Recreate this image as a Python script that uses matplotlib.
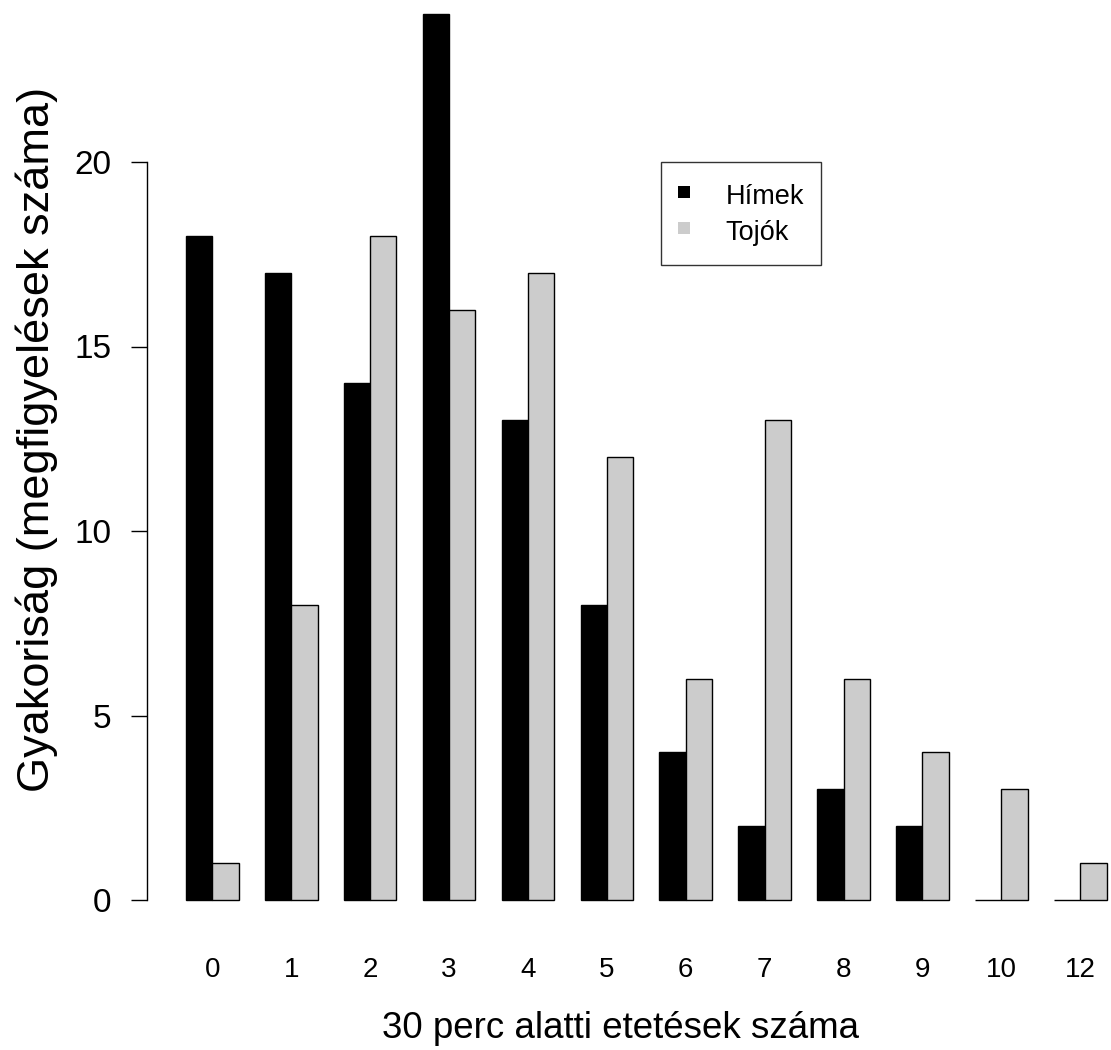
import matplotlib
matplotlib.use("Agg")
import matplotlib.pyplot as plt
from matplotlib.lines import Line2D
import numpy as np

plt.rcParams['font.family'] = ['Liberation Sans', 'DejaVu Sans']

categories = ["0", "1", "2", "3", "4", "5", "6", "7", "8", "9", "10", "12"]
himek = [18, 17, 14, 24, 13, 8, 4, 2, 3, 2, 0, 0]
tojok = [1, 8, 18, 16, 17, 12, 6, 13, 6, 4, 3, 1]
series_names = ["Hímek", "Tojók"]
colors = ["#000000", "#CCCCCC"]

W, H = 1111, 1050
fig = plt.figure(figsize=(W / 100, H / 100), dpi=100)

# axes placement in pixels
left_px, right_px, bottom_px, top_px = 147, 1111, 935, 0
ax = fig.add_axes([left_px / W, 1 - bottom_px / H,
                   (right_px - left_px) / W, (bottom_px - top_px) / H])

# R barplot beside=TRUE layout: groups of 2 bars, width 1, space 1 between groups
n = len(categories)
starts = 1 + 3 * np.arange(n)
ax.bar(starts, himek, width=1.0, align='edge', color=colors[0],
       edgecolor='black', linewidth=1.0)
ax.bar(starts + 1, tojok, width=1.0, align='edge', color=colors[1],
       edgecolor='black', linewidth=1.0)

# x scale: x=1 -> 186 px, 26.3 px per unit
ppu = 26.3
ax.set_xlim(1 - (186 - left_px) / ppu, 1 + (right_px - 186) / ppu)
# y scale: 0 -> 900 px, 20 -> 162 px
ppy = (900 - 162) / 20.0
ax.set_ylim(-(bottom_px - 900) / ppy, (900 - top_px) / ppy)

for s in ['top', 'right', 'bottom']:
    ax.spines[s].set_visible(False)
ax.spines['left'].set_bounds(0, 20)
ax.spines['left'].set_linewidth(1.0)

ax.set_yticks([0, 5, 10, 15, 20])
ax.tick_params(axis='y', length=11.5, width=1.0, pad=14, labelsize=24)
ax.set_xticks(starts + 1)
ax.set_xticklabels(categories)
ax.tick_params(axis='x', length=0, pad=16, labelsize=20)

fig.text(621 / W, 1 - 1028 / H, "30 perc alatti etetések száma",
         ha='center', va='center', fontsize=26.5)
fig.text(37 / W, 1 - 439 / H, "Gyakoriság (megfigyelések száma)",
         ha='center', va='center', rotation=90, fontsize=32.5)

handles = [Line2D([], [], linestyle='none', marker='s', markersize=8.6,
                  markerfacecolor=c, markeredgewidth=0) for c in colors]
leg = ax.legend(handles, series_names, loc='upper left',
                bbox_to_anchor=(661 / W, 1 - 162 / H), bbox_transform=fig.transFigure,
                borderaxespad=0, fontsize=19.5, frameon=True, fancybox=False,
                handlelength=0.45, handleheight=1.5, handletextpad=1.3,
                borderpad=0.625, labelspacing=0.11)
leg.get_frame().set_edgecolor('black')
leg.get_frame().set_linewidth(1.0)

fig.savefig("out.png", dpi=100)
